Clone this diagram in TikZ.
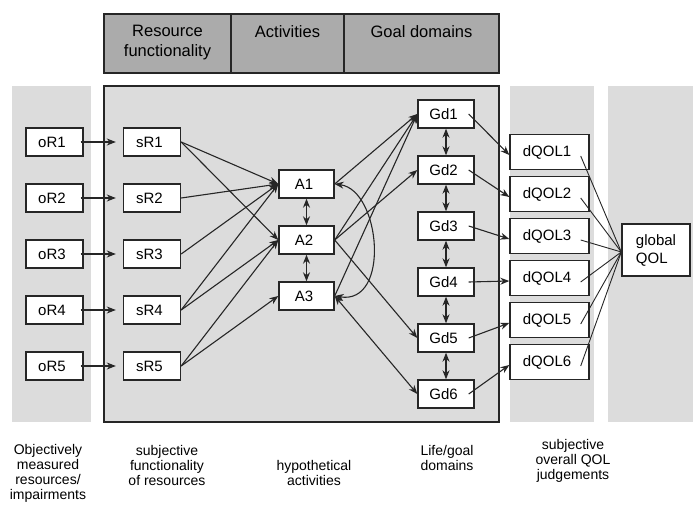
\documentclass[tikz,border=0pt]{standalone}
\usepackage{fontspec}
\setmainfont{Liberation Sans}
\usetikzlibrary{arrows.meta,calc}
\definecolor{panelgray}{HTML}{DCDCDC}
\definecolor{headgray}{HTML}{ABABAB}
\definecolor{ink}{HTML}{262626}
\begin{document}
\begin{tikzpicture}[x=1pt,y=-1pt,
  font=\fontsize{15}{18}\selectfont,
  box/.style={draw=ink, line width=1.4pt, fill=white, inner sep=0pt,
    minimum height=28pt, execute at end node={\hspace{5pt}}},
  rbox/.style={box, minimum width=57pt},
  abox/.style={box, minimum width=55pt},
  gbox/.style={box, minimum width=56pt},
  qbox/.style={box, minimum width=79pt, minimum height=35pt},
  tip/.tip={Stealth[length=9pt,width=7pt]},
  link/.style={draw=ink, line width=1.1pt, -tip},
  both/.style={draw=ink, line width=1.1pt, tip-tip},
  plain/.style={draw=ink, line width=0.9pt},
  caption/.style={align=center, anchor=north, inner sep=0pt,
    font=\fontsize{14}{15.2}\selectfont},
  headtext/.style={align=center, anchor=north, inner sep=0pt,
    font=\fontsize{16.5}{19.5}\selectfont},
]
\useasboundingbox (0,0) rectangle (693,505);

% background panels
\fill[panelgray] (12,86) rectangle (91,422);
\filldraw[fill=panelgray, draw=ink, line width=1.4pt] (104,86) rectangle (499,422);
\fill[panelgray] (510,86) rectangle (594,422);
\fill[panelgray] (608,86) rectangle (693,422);

% header bar
\filldraw[fill=headgray, draw=ink, line width=1.4pt] (104,14) rectangle (499,73);
\draw[draw=ink, line width=1.4pt] (231,14) -- (231,73) (344,14) -- (344,73);
\node[headtext] (hres) at (167.5,25) {Resource\\functionality};
\node[headtext] (hact) at (287.5,25) {Activities};
\node[headtext] (hgoal) at (421.5,25) {Goal domains};

% objective and subjective resources
\foreach \i/\y in {1/142,2/198,3/254,4/310,5/366}{
  \node[rbox] (or\i) at (54.5,\y) {oR\i};
  \node[rbox] (sr\i) at (152,\y) {sR\i};
}
% activities
\node[abox] (a1) at (306.5,184) {A1};
\node[abox] (a2) at (306.5,240) {A2};
\node[abox] (a3) at (306.5,296) {A3};
% goal domains
\foreach \i/\y in {1/114,2/170,3/226,4/282,5/338,6/394}{
  \node[gbox] (gd\i) at (446,\y) {Gd\i};
}
% domain QOL judgements
\foreach \i/\y in {1/152,2/194,3/236,4/278,5/320,6/362}{
  \node[qbox] (dq\i) at (549.5,\y) {dQOL\i};
}
\node[draw=ink, line width=1.4pt, fill=white, minimum width=68pt,
  minimum height=52pt, align=left, inner sep=0pt] (gq) at (656,250)
  {global\\QOL\hspace{18pt}};

% objective -> subjective resources
\foreach \i in {1,...,5}{
  \draw[link] ($(or\i.east)+(-3,0)$) -- ($(sr\i.west)+(-7,0)$);
}
% resources -> activities
\draw[link] (sr1.east) -- (a1.west);
\draw[link] (sr1.east) -- (a2.west);
\draw[link] (sr2.east) -- (a1.west);
\draw[link] (sr3.east) -- (a1.west);
\draw[link] (sr4.east) -- (a1.west);
\draw[link] (sr4.east) -- (a2.west);
\draw[link] (sr5.east) -- (a2.west);
\draw[link] (sr5.east) -- (a3.west);

% links among activities
\draw[both] (a1.south) -- (a2.north);
\draw[both] (a2.south) -- (a3.north);
\draw[both] (a1.east) .. controls +(46,6) and +(56,9) .. (a3.east);

% activities -> goal domains
\draw[link] (a1.east) -- (gd1.west);
\draw[link] (a2.east) -- (gd1.west);
\draw[link] (a3.east) -- (gd1.west);
\draw[link] (a2.east) -- (gd2.west);
\draw[link] (a2.east) -- (gd5.west);
\draw[both] (a3.east) -- (gd6.west);

% links among goal domains
\foreach \i/\j in {1/2,2/3,3/4,4/5,5/6}{
  \draw[both] (gd\i.south) -- (gd\j.north);
}

% goal domains -> domain judgements
\foreach \i in {1,...,6}{
  \draw[link] ($(gd\i.east)+(-6,0)$) -- ($(dq\i.west)+(0,3)$);
}
% domain judgements -> global QOL
\foreach \i in {1,...,6}{
  \draw[plain] ($(dq\i.east)+(-9,4)$) -- ($(gq.west)+(0,2)$);
}

% column captions
\node[caption] (c1) at (48,444) {Objectively\\measured\\resources/\\impairments};
\node[caption] (c2) at (167,445) {subjective\\functionality\\of resources};
\node[caption] (c3) at (314,460) {hypothetical\\activities};
\node[caption] (c4) at (447,445) {Life/goal\\domains};
\node[caption] (c5) at (573,439) {subjective\\overall QOL\\judgements};
\end{tikzpicture}
\end{document}
